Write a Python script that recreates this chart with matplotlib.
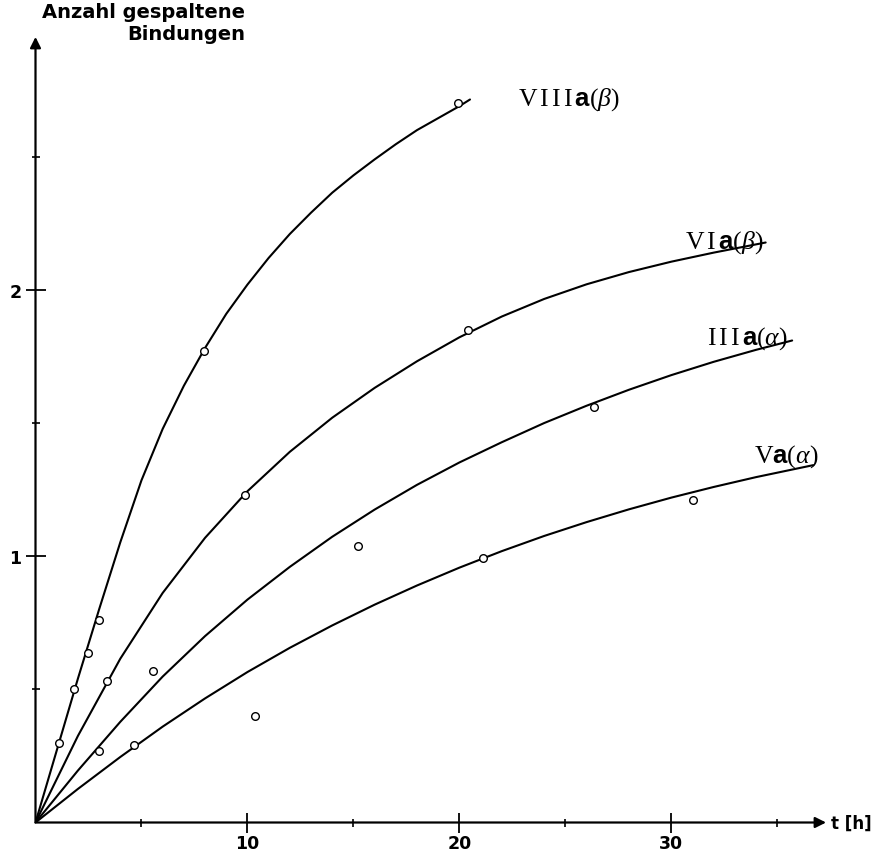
import matplotlib
matplotlib.use("Agg")
import matplotlib.pyplot as plt

plt.rcParams["mathtext.fontset"] = "custom"
plt.rcParams["mathtext.rm"] = "Liberation Serif"
plt.rcParams["mathtext.it"] = "Liberation Serif:italic"
plt.rcParams["mathtext.bf"] = "Liberation Sans:bold"

# -----------------------------
#  Measured points (t in h, number of cleaved bonds)
# -----------------------------
t_viii = [1.1, 1.8, 2.46, 3.0, 7.95, 19.95]
y_viii = [0.30, 0.50, 0.635, 0.76, 1.77, 2.70]

t_vi = [3.36, 9.9, 20.4]
y_vi = [0.53, 1.23, 1.85]

t_iii = [3.0, 5.55, 15.2, 26.35]
y_iii = [0.27, 0.57, 1.04, 1.56]

t_v = [4.63, 10.35, 21.1, 31.0]
y_v = [0.29, 0.40, 0.995, 1.21]

# -----------------------------
#  Hand-drawn curves
# -----------------------------
ct_viii = [0, 1, 2, 3, 4, 5, 6, 7, 8, 9, 10, 11, 12, 13, 14, 15, 16, 17, 18, 19, 20, 20.5]
cy_viii = [0, 0.27, 0.54, 0.80, 1.052, 1.285, 1.478, 1.64, 1.782, 1.91, 2.02, 2.12,
           2.21, 2.29, 2.365, 2.43, 2.49, 2.547, 2.60, 2.645, 2.69, 2.715]

ct_vi = [0, 2, 4, 6, 8, 10, 12, 14, 16, 18, 20, 22, 24, 26, 28, 30, 32, 34.45]
cy_vi = [0, 0.325, 0.615, 0.862, 1.069, 1.244, 1.392, 1.52, 1.632, 1.732, 1.822,
         1.90, 1.966, 2.021, 2.067, 2.106, 2.14, 2.178]

ct_iii = [0, 2, 4, 6, 8, 10, 12, 14, 16, 18, 20, 22, 24, 26, 28, 30, 32, 34, 35.7]
cy_iii = [0, 0.195, 0.378, 0.548, 0.700, 0.837, 0.960, 1.073, 1.175, 1.268, 1.352,
          1.428, 1.50, 1.565, 1.625, 1.68, 1.73, 1.775, 1.81]

ct_v = [0, 2, 4, 6, 8, 10, 12, 14, 16, 18, 20, 22, 24, 26, 28, 30, 32, 34, 36.7]
cy_v = [0, 0.126, 0.246, 0.36, 0.466, 0.565, 0.656, 0.740, 0.818, 0.890, 0.957,
        1.019, 1.076, 1.128, 1.176, 1.220, 1.260, 1.297, 1.342]

labels = [r"$\mathrm{V\,I\,I\,I}\,\mathbf{a}(\beta)$", r"$\mathrm{V\,I}\,\mathbf{a}(\beta)$",
          r"$\mathrm{I\,I\,I}\,\mathbf{a}(\alpha)$", r"$\mathrm{V}\mathbf{a}(\alpha)$"]
label_pos = [(22.75, 2.695), (30.65, 2.16), (31.7, 1.80), (33.9, 1.355)]

x_major = [10, 20, 30]
x_minor = [5, 15, 25, 35]
y_major = [1, 2]
y_minor = [0.5, 1.5, 2.5]

# -----------------------------
#  Figure
# -----------------------------
fig = plt.figure(figsize=(8.77, 8.54), dpi=100)
ax = fig.add_axes([35.5 / 877, 30.5 / 854, 816 / 877, 798.9 / 854])
ax.set_xlim(0, 38.5)
ax.set_ylim(0, 3.0)

for sp in ax.spines.values():
    sp.set_visible(False)

for ct, cy in [(ct_viii, cy_viii), (ct_vi, cy_vi), (ct_iii, cy_iii), (ct_v, cy_v)]:
    ax.plot(ct, cy, color="black", lw=1.5, solid_capstyle="round", solid_joinstyle="round")

for t, y in [(t_viii, y_viii), (t_vi, y_vi), (t_iii, y_iii), (t_v, y_v)]:
    ax.plot(t, y, "o", ms=5.5, mfc="white", mec="black", mew=1.0, zorder=3)

for lab, (lx, ly) in zip(labels, label_pos):
    ax.text(lx, ly, lab, fontsize=18.5, ha="left", va="baseline")

# axes with arrows
ax.annotate("", xy=(37.3, 0), xytext=(0, 0), annotation_clip=False,
            arrowprops=dict(arrowstyle="-|>", lw=1.6, color="black", mutation_scale=16,
                            shrinkA=0, shrinkB=0))
ax.annotate("", xy=(0, 2.95), xytext=(0, 0), annotation_clip=False,
            arrowprops=dict(arrowstyle="-|>", lw=1.6, color="black", mutation_scale=16,
                            shrinkA=0, shrinkB=0))

ax.set_xticks(x_major)
ax.set_xticklabels([str(v) for v in x_major])
ax.set_xticks(x_minor, minor=True)
ax.set_yticks(y_major)
ax.set_yticklabels([str(v) for v in y_major])
ax.set_yticks(y_minor, minor=True)
ax.tick_params(which="major", direction="inout", length=14, width=1.3, pad=1,
               labelsize=12.5)
ax.tick_params(which="minor", direction="inout", length=6, width=1.2)
ax.tick_params(axis="y", which="major", pad=3)
for lbl in ax.get_xticklabels() + ax.get_yticklabels():
    lbl.set_fontfamily("DejaVu Sans")
    lbl.set_fontweight("bold")

fig.text(245 / 877, 1 - 3 / 854, "Anzahl gespaltene\nBindungen", ha="right", va="top",
         multialignment="right", fontsize=14, fontweight="bold",
         family="DejaVu Sans", linespacing=1.2)
ax.text(37.55, 0, "t [h]", ha="left", va="center", fontsize=12, fontweight="bold",
        family="DejaVu Sans", clip_on=False)

fig.savefig("out.png", dpi=100, facecolor="white")
